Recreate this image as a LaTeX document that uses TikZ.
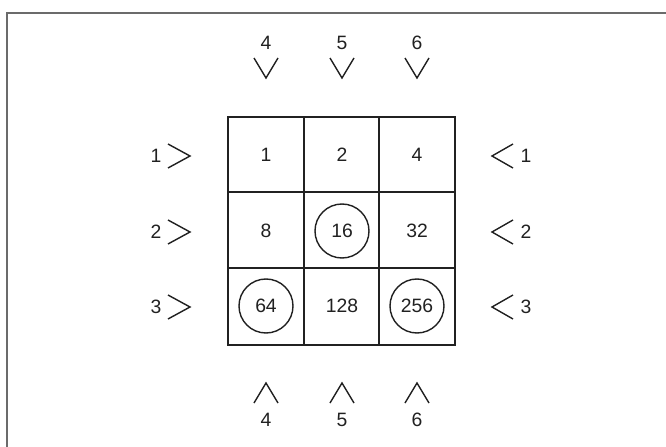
\documentclass[tikz,border=0pt]{standalone}
\usepackage{fontspec}
\setmainfont{Liberation Sans}
\usepackage{xcolor}
\definecolor{inkgray}{rgb}{0.13,0.13,0.13}
\definecolor{framegray}{rgb}{0.42,0.42,0.42}
\usetikzlibrary{positioning}

\begin{document}
\begin{tikzpicture}[x=0.03cm, y=-0.03cm, line width=1.2pt, inkgray,
  font=\fontsize{16.5}{18}\selectfont,
  cell/.style={inner sep=0pt},
  ring/.style={draw, circle, inner sep=0pt, minimum size=1.62cm},
  tag/.style={inner sep=1pt}]
\useasboundingbox (0,0) rectangle (666,447);
% frame (cut at the page edge)
\draw[framegray, line width=1.1pt] (7,447) -- (7,13) -- (666,13);
% grid
\draw (228,117) rectangle (455,345);
\draw (304,117) -- (304,345);
\draw (379,117) -- (379,345);
\draw (228,192) -- (455,192);
\draw (228,268) -- (455,268);
% cell values
\node[cell] (v1) at (266,155) {1};
\node[cell] (v2) at (342,155) {2};
\node[cell] (v4) at (417,155) {4};
\node[cell] (v8) at (266,231) {8};
\node[ring] (v16) at (342,231) {16};
\node[cell] (v32) at (417,231) {32};
\node[ring] (v64) at (266,306) {64};
\node[cell] (v128) at (342,306) {128};
\node[ring] (v256) at (417,306) {256};
% column inputs, top
\node[tag] (t4) at (266,43) {4};
\node[tag] (t5) at (342,43) {5};
\node[tag] (t6) at (417,43) {6};
\draw (254,58) -- (266,78) -- (278,58);
\draw (330,58) -- (342,78) -- (354,58);
\draw (405,58) -- (417,78) -- (429,58);
% column inputs, bottom
\node[tag] (b4) at (266,420) {4};
\node[tag] (b5) at (342,420) {5};
\node[tag] (b6) at (417,420) {6};
\draw (254,403) -- (266,383) -- (278,403);
\draw (330,403) -- (342,383) -- (354,403);
\draw (405,403) -- (417,383) -- (429,403);
% row inputs, left
\node[tag] (l1) at (156,156) {1};
\node[tag] (l2) at (156,232) {2};
\node[tag] (l3) at (156,307) {3};
\draw (168,144) -- (190,156) -- (168,168);
\draw (168,220) -- (190,232) -- (168,244);
\draw (168,295) -- (190,307) -- (168,319);
% row inputs, right
\node[tag] (r1) at (526,156) {1};
\node[tag] (r2) at (526,232) {2};
\node[tag] (r3) at (526,307) {3};
\draw (513,144) -- (492,156) -- (513,168);
\draw (513,220) -- (492,232) -- (513,244);
\draw (513,295) -- (492,307) -- (513,319);
\end{tikzpicture}
\end{document}
